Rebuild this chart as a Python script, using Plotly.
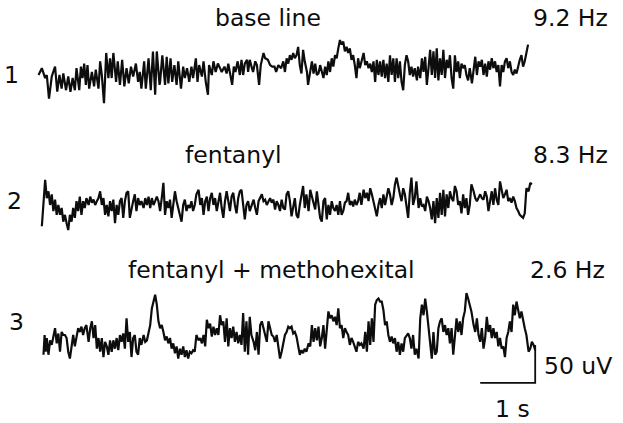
import plotly.graph_objects as go

# ---------------- data (time in s, amplitude in uV) ----------------
t1 = [0.01,0.07,0.13,0.16,0.20,0.25,0.31,0.35,0.39,0.43,0.46,0.51,0.55,0.59,0.63,0.67,0.70,0.75,0.78,0.81,
      0.84,0.87,0.90,0.93,0.98,1.02,1.05,1.10,1.13,1.16,1.20,1.24,1.28,1.31,1.34,1.37,1.42,1.45,1.49,1.53,
      1.57,1.61,1.65,1.69,1.73,1.78,1.82,1.85,1.88,1.93,1.96,2.01,2.05,2.09,2.13,2.16,2.21,
      2.22,2.26,2.31,2.34,2.37,2.41,2.44,2.48,2.52,2.55,2.60,2.64,2.67,2.71,2.75,2.79,2.82,2.87,2.90,2.93,
      2.98,3.01,3.05,3.09,3.11,3.16,3.19,3.23,3.27,3.31,3.34,3.39,3.43,3.46,3.51,3.53,3.56,3.59,3.63,3.67,
      3.70,3.73,3.76,3.80,3.82,3.85,3.89,3.91,3.95,3.98,4.02,4.05,4.10,4.13,4.18,4.22,4.26,4.30,4.33,4.37,
      4.42,4.46,
      4.49,4.52,4.55,4.58,4.61,4.64,4.67,4.70,4.73,4.76,4.79,4.82,4.85,4.89,4.91,4.95,4.98,5.01,5.04,5.07,
      5.10,5.13,5.16,5.19,5.22,5.25,5.28,5.31,5.34,5.37,5.40,5.43,5.46,5.49,5.52,5.55,5.58,5.61,5.64,5.67,
      5.70,5.73,5.76,5.79,5.82,5.85,5.89,5.92,5.95,5.98,6.01,6.04,6.07,6.10,6.13,6.16,6.19,6.22,6.25,6.28,
      6.31,6.34,6.37,6.40,6.43,6.46,6.49,6.52,6.55,6.58,6.61,6.64,6.67,6.70,
      6.73,6.76,6.79,6.82,6.85,6.89,6.91,6.95,6.98,7.01,7.04,7.07,7.10,7.13,7.16,7.19,7.22,7.25,7.28,7.31,
      7.34,7.37,7.40,7.43,7.46,7.49,7.52,7.55,7.58,7.61,7.64,7.67,7.70,7.73,7.76,7.79,7.82,7.85,7.89,7.91,
      7.95,7.98,8.01,8.04,8.07,8.10,8.13,8.16,8.19,8.22,8.25,8.28,8.31,8.34,8.37,8.40,8.43,8.46,8.49,8.52,
      8.55,8.58,8.61,8.64,8.67,8.70,8.73,8.76,8.79,8.82,8.85,8.89,8.91]
v1 = [0,9,-4,0,-31,-2,11,-22,0,-18,2,-20,-2,-22,-4,-20,9,-20,11,-4,
      15,-13,13,-18,4,-15,7,-18,18,0,-37,29,-4,22,-4,29,-9,18,-13,20,
      -15,9,-11,11,-2,15,-9,4,-18,18,-18,22,-20,31,-26,31,-13,
      -9,26,-13,24,-11,22,-9,13,-13,18,-18,11,-4,9,-9,11,-4,22,-9,13,
      -2,18,-9,-26,13,0,18,4,15,9,4,11,2,15,-4,-13,11,4,18,0,
      20,0,15,20,4,20,9,4,18,13,-13,13,29,22,20,13,11,11,4,13,
      9,18,
      4,22,15,26,20,29,22,26,37,13,2,33,18,4,-13,9,18,2,15,0,
      2,13,2,-4,11,0,18,4,22,11,26,22,35,46,40,44,31,37,29,35,
      20,26,13,-4,22,9,20,29,13,18,9,15,4,18,-9,20,0,18,-2,20,
      -4,15,-9,26,0,22,-9,22,-4,18,-9,-20,13,26,
      18,0,11,-2,9,-7,11,-4,22,4,24,-13,9,33,0,31,-4,35,-7,22,
      0,33,-4,20,9,26,-4,-18,26,4,18,-4,15,9,13,0,-7,9,-11,4,
      24,0,18,11,20,0,15,-2,18,7,22,9,18,4,13,-15,13,4,18,22,
      9,18,4,0,7,2,13,20,26,11,18,35,40]

t2 = [0.07,0.13,0.16,0.19,0.22,0.25,0.28,0.31,0.34,0.37,0.40,0.43,0.46,0.49,0.52,0.55,0.58,0.61,0.64,0.67,
      0.70,0.73,0.76,0.79,0.82,0.85,0.88,0.92,0.95,0.98,1.01,1.04,1.07,1.10,1.13,1.16,1.19,1.22,1.25,1.28,
      1.31,1.34,1.37,1.40,1.43,1.46,1.49,1.52,1.55,1.58,1.61,1.64,1.67,1.70,1.73,1.76,1.79,1.82,1.85,1.88,
      1.92,1.95,1.98,2.01,2.04,2.07,2.10,2.13,2.16,2.19,
      2.22,2.25,2.28,2.31,2.34,2.37,2.40,2.43,2.46,2.49,2.52,2.55,2.58,2.61,2.64,2.67,2.70,2.73,2.76,2.79,
      2.82,2.85,2.88,2.92,2.95,2.98,3.01,3.04,3.07,3.10,3.13,3.16,3.19,3.22,3.25,3.28,3.31,3.34,3.37,3.40,
      3.43,3.46,3.49,3.52,3.55,3.58,3.61,3.64,3.67,3.70,3.73,3.76,3.79,3.82,3.85,3.88,3.92,3.95,3.98,4.01,
      4.04,4.07,4.10,4.13,4.16,4.19,4.22,4.25,4.28,4.31,4.34,4.37,4.40,4.43,4.46,
      4.49,4.52,4.55,4.58,4.61,4.64,4.67,4.70,4.73,4.76,4.79,4.82,4.85,4.88,4.92,4.95,4.98,5.01,5.04,5.07,
      5.10,5.13,5.16,5.19,5.22,5.25,5.28,5.31,5.34,5.37,5.40,5.43,5.46,5.49,5.52,5.55,5.58,5.61,5.64,5.67,
      5.70,5.73,5.76,5.79,5.82,5.85,5.88,5.92,5.95,5.98,6.01,6.04,6.07,6.10,6.13,6.16,6.19,6.22,6.25,6.28,
      6.31,6.34,6.37,6.40,6.43,6.46,6.49,6.52,6.55,6.58,6.61,6.64,6.67,6.70,6.73,
      6.76,6.79,6.82,6.85,6.88,6.92,6.95,6.98,7.01,7.04,7.07,7.10,7.13,7.16,7.19,7.22,7.25,7.28,7.31,7.34,
      7.37,7.40,7.43,7.46,7.49,7.52,7.55,7.58,7.61,7.64,7.67,7.70,7.73,7.76,7.79,7.82,7.85,7.88,7.92,7.95,
      7.98,8.01,8.04,8.07,8.10,8.13,8.16,8.19,8.22,8.25,8.28,8.31,8.34,8.37,8.40,8.43,8.46,8.49,8.52,8.55,
      8.58,8.61,8.64,8.67,8.70,8.73,8.76,8.79,8.82,8.85,8.88,8.92,8.95,8.98]
v2 = [-24,37,13,22,4,18,-4,11,-9,4,-9,0,-18,-9,-20,-29,-9,-18,0,-13,
      9,-4,15,-9,9,0,13,4,15,7,11,4,9,13,22,4,13,-9,4,-11,
      9,-4,11,-20,4,-9,9,13,-13,9,20,22,-13,0,9,18,-4,13,4,9,
      0,13,4,15,0,13,4,9,15,9,
      -4,13,33,-9,9,0,11,-13,4,22,9,0,-9,-18,4,11,-4,4,0,9,
      -4,4,18,24,4,13,-9,9,15,-4,13,20,4,13,-4,9,20,0,-13,9,
      22,9,-4,15,20,4,-7,13,22,24,0,-15,4,9,-4,4,11,0,-9,9,
      13,18,9,11,4,9,13,7,11,-2,9,4,-4,11,0,
      -2,18,22,9,-11,0,13,-9,-13,4,18,29,0,18,-4,24,15,4,-2,22,
      4,-13,-18,9,13,-15,4,-9,9,0,-4,4,-9,9,-9,-4,7,9,20,4,
      9,2,11,4,9,20,4,24,13,20,9,26,18,9,2,-11,4,13,0,18,
      4,13,26,18,4,13,31,40,26,18,9,26,18,4,-13,
      20,40,4,13,35,0,13,2,4,-4,15,9,0,-15,9,-20,13,-13,20,-9,
      24,-11,18,0,22,13,9,29,22,4,9,-7,18,0,13,-9,4,31,22,13,
      9,13,18,13,11,22,15,-4,11,22,4,26,11,4,35,26,13,18,24,9,
      13,7,15,9,0,-4,-9,-11,-13,-7,26,22,33,31]

t3 = [0.10,0.12,0.14,0.16,0.19,0.22,0.25,0.28,0.31,0.34,0.37,0.40,0.43,0.46,0.49,0.52,0.55,0.58,0.61,0.64,
      0.67,0.70,0.73,0.76,0.79,0.82,0.85,0.88,0.92,0.95,0.98,1.01,1.04,1.07,1.10,1.13,1.16,1.19,1.22,1.25,
      1.28,1.31,1.34,1.37,1.40,1.43,1.46,1.49,1.52,1.55,1.58,1.61,1.64,1.67,1.70,1.73,1.76,1.79,1.82,1.85,
      1.88,1.92,1.95,1.98,2.01,2.04,2.07,2.10,2.13,2.16,2.19,2.22,2.25,2.28,
      2.31,2.34,2.37,2.40,2.43,2.46,2.49,2.52,2.55,2.58,2.61,2.64,2.67,2.70,2.73,2.76,2.79,2.82,2.85,2.88,
      2.92,2.95,2.98,3.01,3.04,3.07,3.10,3.13,3.16,3.19,3.22,3.25,3.28,3.31,3.34,3.37,3.40,3.43,3.46,3.49,
      3.52,3.55,3.58,3.61,3.64,3.67,3.70,3.73,3.76,3.79,3.82,3.85,3.88,3.92,3.95,3.98,4.01,4.04,4.07,4.10,
      4.13,4.16,4.19,4.22,4.25,4.28,4.31,4.34,4.37,4.40,4.43,4.46,4.49,4.52,4.55,
      4.58,4.61,4.64,4.67,4.70,4.73,4.76,4.79,4.82,4.85,4.88,4.92,4.95,4.98,5.01,5.04,5.07,5.10,5.13,5.16,
      5.19,5.22,5.25,5.28,5.31,5.34,5.37,5.40,5.43,5.46,5.49,5.52,5.55,5.58,5.61,5.64,5.67,5.70,5.73,5.76,
      5.79,5.82,5.85,5.88,5.92,5.95,5.98,6.01,6.04,6.07,6.10,6.13,6.16,6.19,6.22,6.25,6.28,6.31,6.34,6.37,
      6.40,6.43,6.46,6.49,6.52,6.55,6.58,6.61,6.64,6.67,6.70,6.73,6.76,6.79,6.82,
      6.85,6.88,6.92,6.95,6.98,7.01,7.04,7.07,7.10,7.13,7.16,7.19,7.22,7.25,7.28,7.31,7.34,7.37,7.40,7.43,
      7.46,7.49,7.52,7.55,7.58,7.61,7.64,7.67,7.70,7.73,7.76,7.79,7.82,7.85,7.88,7.92,7.95,7.98,8.01,8.04,
      8.07,8.10,8.13,8.16,8.19,8.22,8.25,8.28,8.31,8.34,8.37,8.40,8.43,8.46,8.49,8.52,8.55,8.58,8.61,8.64,
      8.67,8.70,8.73,8.76,8.79,8.82,8.85,8.88,8.92,8.95,8.98,9.01,9.04]
v3 = [-26,0,-22,-4,-26,-7,-13,0,9,-11,2,-22,4,0,0,-4,-22,-31,-11,0,
      -15,-4,9,4,11,0,9,13,-9,9,18,-4,13,-18,-4,-22,-4,-29,-9,-15,
      -26,-7,-22,-7,-18,-4,-20,0,-9,2,-18,22,-9,4,-29,-4,0,-22,-26,-4,
      -13,0,-9,-7,4,13,35,44,53,40,18,9,13,4,
      -7,-2,-11,-4,-18,-11,-24,-15,-31,-18,-26,-15,-29,-20,-31,-22,-24,-20,-22,0,
      -7,-4,-11,0,-15,20,9,15,-2,11,0,9,0,26,13,18,-9,22,-15,9,
      -4,11,-9,4,-11,0,-13,29,-22,18,-26,24,0,-9,-20,4,-26,13,18,9,
      0,-9,18,9,0,-2,-9,0,-13,-31,-22,-9,0,4,11,
      9,11,2,4,-2,-15,-26,-20,-24,-18,-22,-11,-15,13,-9,9,-7,11,-15,-4,
      13,-18,13,31,22,26,18,24,13,35,9,13,-4,9,4,0,-13,-4,-9,-15,
      -22,-9,-13,-11,-18,4,-22,18,-13,22,-9,40,46,48,44,44,33,13,18,0,
      -9,-2,-11,-4,-22,-9,-26,-11,-22,-4,0,2,-4,-18,0,
      -26,-18,-31,22,40,26,48,31,9,-9,-31,4,-26,-22,9,18,22,4,13,0,
      9,-11,9,-26,0,22,4,18,0,22,31,55,48,40,31,13,4,22,0,-9,
      9,-18,-4,24,4,13,-4,9,-4,4,-15,-4,-18,-15,-29,-4,4,18,4,40,
      26,44,35,22,31,18,9,0,-22,-18,-9,-13,-20]

trace_labels = ["1", "2", "3"]
titles = ["base line", "fentanyl", "fentanyl + methohexital"]
freqs = ["9.2 Hz", "8.3 Hz", "2.6 Hz"]
scale_time_s = 1
scale_amp_uv = 50

# ---------------- layout geometry ----------------
W, H = 623, 423
PX_PER_S = 55.0
PX_PER_UV = 38.0 / 50.0
X0_PX = 38.0                      # pixel where t = 0
x_range = [-X0_PX / PX_PER_S, (W - X0_PX) / PX_PER_S]

# (top px, bottom px, baseline px) per trace band
bands = [(0, 140, 75), (140, 270, 208), (270, H, 335)]


def yrange(top, bot, base):
    return [(base - bot) / PX_PER_UV, (base - top) / PX_PER_UV]


def ydomain(top, bot):
    return [1 - bot / H, 1 - top / H]


fig = go.Figure()
line = dict(color="#0d0d0d", width=2.2)
for i, (t, v) in enumerate([(t1, v1), (t2, v2), (t3, v3)]):
    yref = "y" if i == 0 else f"y{i+1}"
    fig.add_trace(go.Scatter(x=t, y=v, mode="lines", line=line,
                             xaxis="x", yaxis=yref, showlegend=False,
                             hoverinfo="skip"))

# scale bar (1 s, 50 uV) in trace-3 axes
bar_t_end = 9.04
bar_v0 = -63.0
fig.add_trace(go.Scatter(
    x=[bar_t_end - scale_time_s, bar_t_end, bar_t_end],
    y=[bar_v0, bar_v0, bar_v0 + scale_amp_uv],
    mode="lines", line=dict(color="#0d0d0d", width=1.8),
    xaxis="x", yaxis="y3", showlegend=False, hoverinfo="skip"))

axis_common = dict(visible=False, showgrid=False, zeroline=False, fixedrange=True)
layout = dict(
    width=W, height=H,
    margin=dict(l=0, r=0, t=0, b=0),
    paper_bgcolor="white", plot_bgcolor="white",
    xaxis=dict(range=x_range, domain=[0, 1], anchor="y", **axis_common),
)
for i, (top, bot, base) in enumerate(bands):
    key = "yaxis" if i == 0 else f"yaxis{i+1}"
    layout[key] = dict(range=yrange(top, bot, base), domain=ydomain(top, bot),
                       anchor="x", **axis_common)
fig.update_layout(**layout)

font = dict(family="DejaVu Sans, Verdana, sans-serif", size=23.5, color="#0d0d0d")


def ann(text, px, py, xanchor="center"):
    fig.add_annotation(text=text, xref="paper", yref="paper",
                       x=px / W, y=1 - py / H,
                       xanchor=xanchor, yanchor="middle",
                       showarrow=False, font=font, borderpad=0)


title_pos = [(268, 18), (233, 155), (271, 270)]
freq_pos = [(570, 18), (570, 155), (567, 270)]
num_pos = [(11, 75), (14, 201), (16, 322)]
for i in range(3):
    ann(titles[i], *title_pos[i])
    ann(freqs[i], *freq_pos[i])
    ann(trace_labels[i], *num_pos[i])

ann(f"{scale_amp_uv} uV", 543, 366, xanchor="left")
ann(f"{scale_time_s} s", 512, 409)

# remove the default 8 px page margin so the figure fills the window exactly
fig.write_html("out.html",
               config={"displayModeBar": False, "staticPlot": True},
               post_script="document.body.style.margin='0';")
